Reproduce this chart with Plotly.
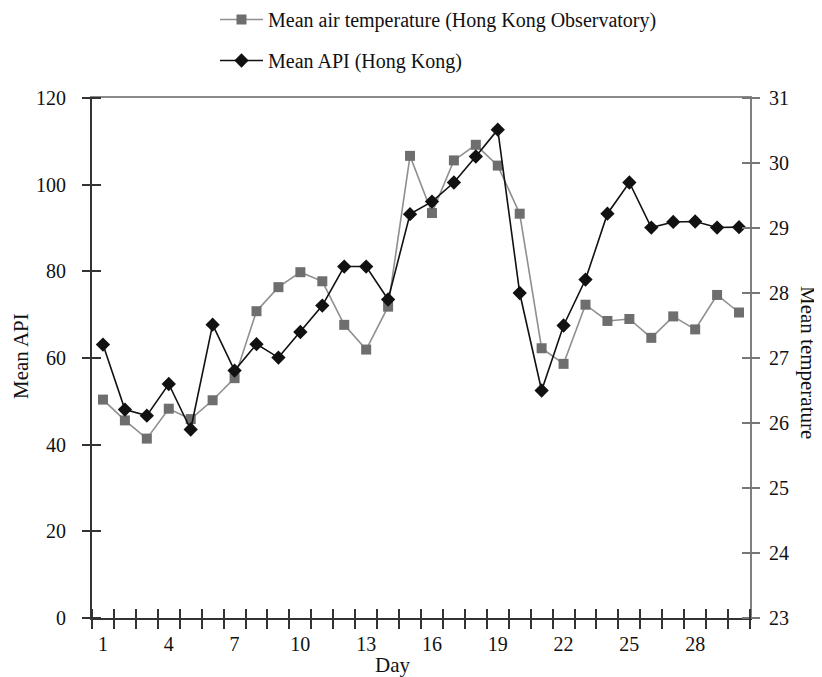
import plotly.graph_objects as go

days = list(range(1, 31))
api = [63.1, 48.1, 46.7, 54.0, 43.5, 67.7, 57.1, 63.2, 60.1, 66.0, 72.1, 81.1, 81.1, 73.5, 93.2,
       96.1, 100.5, 106.5, 112.7, 75.0, 52.5, 67.5, 78.1, 93.3, 100.5, 90.1, 91.4, 91.5, 90.1, 90.2]
temp = [26.36, 26.04, 25.76, 26.22, 26.06, 26.35, 26.69, 27.72, 28.09, 28.32, 28.18, 27.51, 27.13, 27.79, 30.11,
        29.23, 30.04, 30.28, 29.96, 29.22, 27.15, 26.91, 27.82, 27.57, 27.60, 27.31, 27.64, 27.44, 27.97, 27.70]
x_labels = [1, 4, 7, 10, 13, 16, 19, 22, 25, 28]
x_bounds = [d - 0.5 for d in days] + [days[-1] + 0.5]
api_ticks = [0, 20, 40, 60, 80, 100, 120]
temp_ticks = [23, 24, 25, 26, 27, 28, 29, 30, 31]

FONT = "Liberation Serif"
OFF = 8  # default page body margin
W, H = 822 - OFF, 677 - OFF
PL, PR, PT, PB = 92, 750, 98, 618  # plot area in window pixels
PW, PH = PR - PL, PB - PT
ML, MT = PL - OFF, PT - OFF
MR, MB = W - ML - PW, H - MT - PH


def xp(vx):
    return (vx - PL) / PW


def yp(vy):
    return (PB - vy) / PH


fig = go.Figure()
fig.add_trace(go.Scatter(
    x=days, y=temp, name="Mean air temperature (Hong Kong Observatory)",
    mode="lines+markers", xaxis="x", yaxis="y", legendgroup="a",
    line=dict(color="#8f8f8f", width=1.6),
    marker=dict(symbol="square", size=10, color="#6e6e6e"),
))
fig.add_trace(go.Scatter(
    x=days, y=api, name="Mean API (Hong Kong)",
    mode="lines+markers", xaxis="x", yaxis="y2", legendgroup="b",
    line=dict(color="#111111", width=1.6),
    marker=dict(symbol="diamond", size=11, color="#111111"),
))
# empty helper traces so the tick-only overlay axes get drawn
for xa, ya in [("x2", "y"), ("x", "y3"), ("x", "y4"), ("x3", "y")]:
    fig.add_trace(go.Scatter(x=[None], y=[None], xaxis=xa, yaxis=ya, showlegend=False,
                             hoverinfo="skip", mode="markers"))

xr = [0.5, 30.5]
tf = dict(family=FONT, size=20, color="#111")
common = dict(showgrid=False, zeroline=False, automargin=False)
fig.update_layout(
    template="none",
    width=W, height=H,
    margin=dict(l=ML, r=MR, t=MT, b=MB, autoexpand=False),
    paper_bgcolor="white", plot_bgcolor="white",
    font=dict(family=FONT, size=20, color="#111"),
    showlegend=True,
    legend=dict(x=xp(215), xanchor="left", y=yp(0), yanchor="top",
                font=dict(family=FONT, size=20, color="#111"), tracegroupgap=12,
                bgcolor="rgba(0,0,0,0)", borderwidth=0, itemwidth=43),
    xaxis=dict(range=xr, tickmode="array", tickvals=x_labels, ticktext=[str(v) for v in x_labels],
               ticks="outside", ticklen=7, tickcolor="rgba(0,0,0,0)", tickfont=tf,
               showline=True, linecolor="#333", linewidth=2, **common),
    xaxis2=dict(range=xr, overlaying="x", anchor="free", position=10 / PH,
                tickmode="array", tickvals=x_bounds, ticks="outside", ticklen=20, tickwidth=2,
                tickcolor="#333", showticklabels=False, showline=False, **common),
    xaxis3=dict(range=xr, overlaying="x", side="top", anchor="y", showline=True, linecolor="#8a8a8a",
                linewidth=2, showticklabels=False, ticks="", **common),
    yaxis=dict(range=[23, 31], side="right", tickmode="array", tickvals=temp_ticks,
               ticks="outside", ticklen=13, tickwidth=2, tickcolor="rgba(0,0,0,0)", tickfont=tf,
               showline=True, linecolor="#808080", linewidth=2, **common),
    yaxis2=dict(range=[0, 120], side="left", overlaying="y", tickmode="array", tickvals=api_ticks,
                ticks="outside", ticklen=20, tickwidth=2, tickcolor="rgba(0,0,0,0)", tickfont=tf,
                showline=True, linecolor="#333", linewidth=2, **common),
    yaxis3=dict(range=[0, 120], side="left", overlaying="y", anchor="free", position=9 / PW,
                tickmode="array", tickvals=api_ticks, ticks="outside", ticklen=19, tickwidth=2,
                tickcolor="#333", showticklabels=False, showline=False, **common),
    yaxis4=dict(range=[23, 31], side="right", overlaying="y", anchor="free", position=1 - 9 / PW,
                tickmode="array", tickvals=temp_ticks, ticks="outside", ticklen=18, tickwidth=2,
                tickcolor="#777", showticklabels=False, showline=False, **common),
)

title_font = dict(family=FONT, size=21, color="#111")
fig.add_annotation(text="Mean API", xref="paper", yref="paper", x=xp(21), y=yp(356),
                   xanchor="center", yanchor="middle", textangle=-90, showarrow=False, font=title_font)
fig.add_annotation(text="Mean temperature", xref="paper", yref="paper", x=xp(808), y=yp(362),
                   xanchor="center", yanchor="middle", textangle=90, showarrow=False, font=title_font)
fig.add_annotation(text="Day", xref="paper", yref="paper", x=xp(392), y=yp(665),
                   xanchor="center", yanchor="middle", showarrow=False, font=title_font)

fig.write_html("out.html")
